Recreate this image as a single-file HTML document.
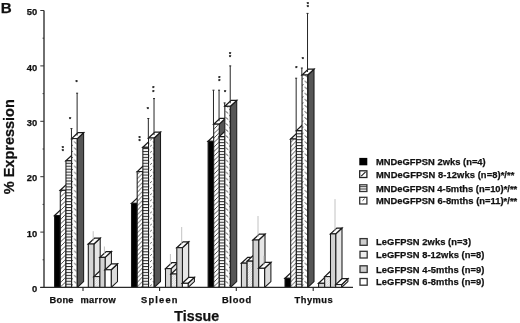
<!DOCTYPE html>
<html><head><meta charset="utf-8"><title>Figure B</title>
<style>
html,body{margin:0;padding:0;background:#fff;}
svg{display:block;}
text{font-family:"Liberation Sans",sans-serif;font-weight:bold;fill:#111;stroke:#111;stroke-width:0.25px;}
</style></head><body>
<svg width="520" height="323" viewBox="0 0 520 323">
<defs>
<pattern id="pd" patternUnits="userSpaceOnUse" width="4.5" height="4.5" x="0" y="1">
<rect width="4.5" height="4.5" fill="#fff"/>
<path d="M-1,5.5 L5.5,-1 M-1,1 L1,-1 M3.5,5.5 L5.5,3.5" stroke="#151515" stroke-width="0.75" fill="none"/>
</pattern>
<pattern id="ph" patternUnits="userSpaceOnUse" width="6" height="2.95" x="0" y="0.5">
<rect width="6" height="2.95" fill="#fff"/>
<rect y="0" width="6" height="1.1" fill="#333"/>
</pattern>
<pattern id="pt" patternUnits="userSpaceOnUse" width="6.07" height="6.07" x="0" y="0">
<rect width="6.07" height="6.07" fill="#fff"/>
<path d="M1.2,2.05 L3.7,4.1 M4.5,0.73 L6.2,-0.9 M4.5,6.8 L6.2,5.17" stroke="#2a2a2a" stroke-width="0.85" fill="none"/>
</pattern>
<pattern id="pl" patternUnits="userSpaceOnUse" width="2.4" height="2.4">
<rect width="2.4" height="2.4" fill="#f3f3f3"/>
<path d="M-0.5,2.9 L2.9,-0.5" stroke="#c6c6c6" stroke-width="0.7" fill="none"/>
</pattern>
</defs>
<rect width="520" height="323" fill="#fff"/>

<g stroke="#333" fill="none">
<path d="M44,10.5 V287.5" stroke-width="1.4"/>
<path d="M40.3,287.5 H44" stroke-width="1"/>
<path d="M40.3,232.1 H44" stroke-width="1"/>
<path d="M40.3,176.7 H44" stroke-width="1"/>
<path d="M40.3,121.3 H44" stroke-width="1"/>
<path d="M40.3,65.9 H44" stroke-width="1"/>
<path d="M40.3,10.5 H44" stroke-width="1"/>
<path d="M42.6,259.8 H44" stroke-width="1"/>
<path d="M42.6,204.4 H44" stroke-width="1"/>
<path d="M42.6,149.0 H44" stroke-width="1"/>
<path d="M42.6,93.6 H44" stroke-width="1"/>
<path d="M42.6,38.2 H44" stroke-width="1"/>
</g>
<text x="37.2" y="292.1" font-size="9.4" text-anchor="end">0</text>
<text x="37.2" y="236.7" font-size="9.4" text-anchor="end">10</text>
<text x="37.2" y="181.3" font-size="9.4" text-anchor="end">20</text>
<text x="37.2" y="125.9" font-size="9.4" text-anchor="end">30</text>
<text x="37.2" y="70.5" font-size="9.4" text-anchor="end">40</text>
<text x="37.2" y="15.1" font-size="9.4" text-anchor="end">50</text>
<g stroke="#1a1a1a" stroke-width="1.05" stroke-linejoin="miter">
<path d="M60.28,215.50 L66.58,209.60 L66.58,281.60 L60.28,287.50 Z" fill="#000"/>
<path d="M54.60,215.50 L60.90,209.60 L66.58,209.60 L60.28,215.50 Z" fill="#fff" stroke-width="1.25"/>
<rect x="54.60" y="215.50" width="5.68" height="72.00" fill="#000"/>
<path d="M65.96,190.30 L72.26,184.40 L72.26,281.60 L65.96,287.50 Z" fill="#565656"/>
<path d="M60.28,190.30 L66.58,184.40 L72.26,184.40 L65.96,190.30 Z" fill="#fff" stroke-width="1.25"/>
<rect x="60.28" y="190.30" width="5.68" height="97.20" fill="url(#pd)"/>
<path d="M71.64,160.80 L77.94,154.90 L77.94,281.60 L71.64,287.50 Z" fill="#565656"/>
<path d="M65.96,160.80 L72.26,154.90 L77.94,154.90 L71.64,160.80 Z" fill="#fff" stroke-width="1.25"/>
<rect x="65.96" y="160.80" width="5.68" height="126.70" fill="url(#ph)"/>
<path d="M77.32,138.60 L83.62,132.70 L83.62,281.60 L77.32,287.50 Z" fill="#565656"/>
<path d="M71.64,138.60 L77.94,132.70 L83.62,132.70 L77.32,138.60 Z" fill="#fff" stroke-width="1.25"/>
<rect x="71.64" y="138.60" width="5.68" height="148.90" fill="url(#pt)"/>
<path d="M77.32,138.60 V287.50" stroke="#222" stroke-width="1.3" fill="none"/>
<path d="M93.90,244.00 L100.20,238.10 L100.20,281.60 L93.90,287.50 Z" fill="#e6e6e6"/>
<path d="M88.30,244.00 L94.60,238.10 L100.20,238.10 L93.90,244.00 Z" fill="#fff" stroke-width="1.25"/>
<rect x="88.30" y="244.00" width="5.60" height="43.50" fill="#d6d6d6"/>
<path d="M99.90,276.60 L106.20,270.70 L106.20,281.60 L99.90,287.50 Z" fill="#e6e6e6"/>
<path d="M93.90,276.60 L100.20,270.70 L106.20,270.70 L99.90,276.60 Z" fill="#fff" stroke-width="1.25"/>
<rect x="93.90" y="276.60" width="6.00" height="10.90" fill="url(#pl)"/>
<path d="M105.10,257.40 L111.40,251.50 L111.40,281.60 L105.10,287.50 Z" fill="#e6e6e6"/>
<path d="M99.90,257.40 L106.20,251.50 L111.40,251.50 L105.10,257.40 Z" fill="#fff" stroke-width="1.25"/>
<rect x="99.90" y="257.40" width="5.20" height="30.10" fill="#d2d2d2"/>
<path d="M111.20,269.80 L117.50,263.90 L117.50,281.60 L111.20,287.50 Z" fill="#dcdcdc"/>
<path d="M105.10,269.80 L111.40,263.90 L117.50,263.90 L111.20,269.80 Z" fill="#fff" stroke-width="1.25"/>
<rect x="105.10" y="269.80" width="6.10" height="17.70" fill="#fff"/>
<path d="M137.18,203.40 L143.48,197.50 L143.48,281.60 L137.18,287.50 Z" fill="#000"/>
<path d="M131.50,203.40 L137.80,197.50 L143.48,197.50 L137.18,203.40 Z" fill="#fff" stroke-width="1.25"/>
<rect x="131.50" y="203.40" width="5.68" height="84.10" fill="#000"/>
<path d="M142.86,171.60 L149.16,165.70 L149.16,281.60 L142.86,287.50 Z" fill="#565656"/>
<path d="M137.18,171.60 L143.48,165.70 L149.16,165.70 L142.86,171.60 Z" fill="#fff" stroke-width="1.25"/>
<rect x="137.18" y="171.60" width="5.68" height="115.90" fill="url(#pd)"/>
<path d="M148.54,147.30 L154.84,141.40 L154.84,281.60 L148.54,287.50 Z" fill="#565656"/>
<path d="M142.86,147.30 L149.16,141.40 L154.84,141.40 L148.54,147.30 Z" fill="#fff" stroke-width="1.25"/>
<rect x="142.86" y="147.30" width="5.68" height="140.20" fill="url(#ph)"/>
<path d="M154.22,138.00 L160.52,132.10 L160.52,281.60 L154.22,287.50 Z" fill="#565656"/>
<path d="M148.54,138.00 L154.84,132.10 L160.52,132.10 L154.22,138.00 Z" fill="#fff" stroke-width="1.25"/>
<rect x="148.54" y="138.00" width="5.68" height="149.50" fill="url(#pt)"/>
<path d="M154.22,138.00 V287.50" stroke="#222" stroke-width="1.3" fill="none"/>
<path d="M171.10,268.60 L177.40,262.70 L177.40,281.60 L171.10,287.50 Z" fill="#e6e6e6"/>
<path d="M165.50,268.60 L171.80,262.70 L177.40,262.70 L171.10,268.60 Z" fill="#fff" stroke-width="1.25"/>
<rect x="165.50" y="268.60" width="5.60" height="18.90" fill="#d6d6d6"/>
<path d="M176.80,274.00 L183.10,268.10 L183.10,281.60 L176.80,287.50 Z" fill="#e6e6e6"/>
<path d="M171.10,274.00 L177.40,268.10 L183.10,268.10 L176.80,274.00 Z" fill="#fff" stroke-width="1.25"/>
<rect x="171.10" y="274.00" width="5.70" height="13.50" fill="url(#pl)"/>
<path d="M182.40,247.70 L188.70,241.80 L188.70,281.60 L182.40,287.50 Z" fill="#e6e6e6"/>
<path d="M176.80,247.70 L183.10,241.80 L188.70,241.80 L182.40,247.70 Z" fill="#fff" stroke-width="1.25"/>
<rect x="176.80" y="247.70" width="5.60" height="39.80" fill="#d2d2d2"/>
<path d="M188.10,283.30 L194.40,277.40 L194.40,281.60 L188.10,287.50 Z" fill="#dcdcdc"/>
<path d="M182.40,283.30 L188.70,277.40 L194.40,277.40 L188.10,283.30 Z" fill="#fff" stroke-width="1.25"/>
<rect x="182.40" y="283.30" width="5.70" height="4.20" fill="#fff"/>
<path d="M213.68,141.30 L219.98,135.40 L219.98,281.60 L213.68,287.50 Z" fill="#000"/>
<path d="M208.10,141.30 L214.40,135.40 L219.98,135.40 L213.68,141.30 Z" fill="#fff" stroke-width="1.25"/>
<rect x="208.10" y="141.30" width="5.58" height="146.20" fill="#000"/>
<path d="M219.26,124.20 L225.56,118.30 L225.56,281.60 L219.26,287.50 Z" fill="#565656"/>
<path d="M213.68,124.20 L219.98,118.30 L225.56,118.30 L219.26,124.20 Z" fill="#fff" stroke-width="1.25"/>
<rect x="213.68" y="124.20" width="5.58" height="163.30" fill="url(#pd)"/>
<path d="M224.84,136.60 L231.14,130.70 L231.14,281.60 L224.84,287.50 Z" fill="#565656"/>
<path d="M219.26,136.60 L225.56,130.70 L231.14,130.70 L224.84,136.60 Z" fill="#fff" stroke-width="1.25"/>
<rect x="219.26" y="136.60" width="5.58" height="150.90" fill="url(#ph)"/>
<path d="M230.42,106.30 L236.72,100.40 L236.72,281.60 L230.42,287.50 Z" fill="#565656"/>
<path d="M224.84,106.30 L231.14,100.40 L236.72,100.40 L230.42,106.30 Z" fill="#fff" stroke-width="1.25"/>
<rect x="224.84" y="106.30" width="5.58" height="181.20" fill="url(#pt)"/>
<path d="M230.42,106.30 V287.50" stroke="#222" stroke-width="1.3" fill="none"/>
<path d="M247.10,263.20 L253.40,257.30 L253.40,281.60 L247.10,287.50 Z" fill="#e6e6e6"/>
<path d="M241.40,263.20 L247.70,257.30 L253.40,257.30 L247.10,263.20 Z" fill="#fff" stroke-width="1.25"/>
<rect x="241.40" y="263.20" width="5.70" height="24.30" fill="#d6d6d6"/>
<path d="M253.00,261.20 L259.30,255.30 L259.30,281.60 L253.00,287.50 Z" fill="#e6e6e6"/>
<path d="M247.10,261.20 L253.40,255.30 L259.30,255.30 L253.00,261.20 Z" fill="#fff" stroke-width="1.25"/>
<rect x="247.10" y="261.20" width="5.90" height="26.30" fill="url(#pl)"/>
<path d="M258.70,240.00 L265.00,234.10 L265.00,281.60 L258.70,287.50 Z" fill="#e6e6e6"/>
<path d="M253.00,240.00 L259.30,234.10 L265.00,234.10 L258.70,240.00 Z" fill="#fff" stroke-width="1.25"/>
<rect x="253.00" y="240.00" width="5.70" height="47.50" fill="#d2d2d2"/>
<path d="M264.60,268.30 L270.90,262.40 L270.90,281.60 L264.60,287.50 Z" fill="#dcdcdc"/>
<path d="M258.70,268.30 L265.00,262.40 L270.90,262.40 L264.60,268.30 Z" fill="#fff" stroke-width="1.25"/>
<rect x="258.70" y="268.30" width="5.90" height="19.20" fill="#fff"/>
<path d="M290.68,278.30 L296.98,272.40 L296.98,281.60 L290.68,287.50 Z" fill="#000"/>
<path d="M285.00,278.30 L291.30,272.40 L296.98,272.40 L290.68,278.30 Z" fill="#fff" stroke-width="1.25"/>
<rect x="285.00" y="278.30" width="5.68" height="9.20" fill="#000"/>
<path d="M296.36,139.00 L302.66,133.10 L302.66,281.60 L296.36,287.50 Z" fill="#565656"/>
<path d="M290.68,139.00 L296.98,133.10 L302.66,133.10 L296.36,139.00 Z" fill="#fff" stroke-width="1.25"/>
<rect x="290.68" y="139.00" width="5.68" height="148.50" fill="url(#pd)"/>
<path d="M302.04,130.60 L308.34,124.70 L308.34,281.60 L302.04,287.50 Z" fill="#565656"/>
<path d="M296.36,130.60 L302.66,124.70 L308.34,124.70 L302.04,130.60 Z" fill="#fff" stroke-width="1.25"/>
<rect x="296.36" y="130.60" width="5.68" height="156.90" fill="url(#ph)"/>
<path d="M307.72,75.00 L314.02,69.10 L314.02,281.60 L307.72,287.50 Z" fill="#565656"/>
<path d="M302.04,75.00 L308.34,69.10 L314.02,69.10 L307.72,75.00 Z" fill="#fff" stroke-width="1.25"/>
<rect x="302.04" y="75.00" width="5.68" height="212.50" fill="url(#pt)"/>
<path d="M307.72,75.00 V287.50" stroke="#222" stroke-width="1.3" fill="none"/>
<path d="M324.70,283.30 L331.00,277.40 L331.00,281.60 L324.70,287.50 Z" fill="#e6e6e6"/>
<path d="M318.60,283.30 L324.90,277.40 L331.00,277.40 L324.70,283.30 Z" fill="#fff" stroke-width="1.25"/>
<rect x="318.60" y="283.30" width="6.10" height="4.20" fill="#d6d6d6"/>
<path d="M330.50,276.60 L336.80,270.70 L336.80,281.60 L330.50,287.50 Z" fill="#e6e6e6"/>
<path d="M324.70,276.60 L331.00,270.70 L336.80,270.70 L330.50,276.60 Z" fill="#fff" stroke-width="1.25"/>
<rect x="324.70" y="276.60" width="5.80" height="10.90" fill="url(#pl)"/>
<path d="M335.70,233.90 L342.00,228.00 L342.00,281.60 L335.70,287.50 Z" fill="#e6e6e6"/>
<path d="M330.50,233.90 L336.80,228.00 L342.00,228.00 L335.70,233.90 Z" fill="#fff" stroke-width="1.25"/>
<rect x="330.50" y="233.90" width="5.20" height="53.60" fill="#d2d2d2"/>
<path d="M341.60,284.60 L347.90,278.70 L347.90,281.60 L341.60,287.50 Z" fill="#dcdcdc"/>
<path d="M335.70,284.60 L342.00,278.70 L347.90,278.70 L341.60,284.60 Z" fill="#fff" stroke-width="1.25"/>
<rect x="335.70" y="284.60" width="5.90" height="2.90" fill="#fff"/>
</g>
<rect x="45" y="288.05" width="320" height="3.5" fill="#fff"/>
<g stroke="#2a2a2a" fill="none">
<path d="M40.3,287.4 H353" stroke-width="1.3"/>
<path d="M83,287.5 V291" stroke-width="1.1"/>
<path d="M159.6,287.5 V291" stroke-width="1.1"/>
<path d="M236.3,287.5 V291" stroke-width="1.1"/>
<path d="M313.2,287.5 V291" stroke-width="1.1"/>
</g>
<path d="M71.44,128.60 V138.60 M70.44,128.60 H72.44" stroke="#262626" stroke-width="1" fill="none"/>
<path d="M77.12,93.20 V135.60 M76.12,93.20 H78.12" stroke="#262626" stroke-width="1" fill="none"/>
<path d="M93.20,231.20 V241.00" stroke="#b2b2b2" stroke-width="0.8" fill="none"/>
<path d="M104.40,246.50 V254.40" stroke="#b2b2b2" stroke-width="0.8" fill="none"/>
<path d="M148.34,118.50 V138.00 M147.34,118.50 H149.34" stroke="#262626" stroke-width="1" fill="none"/>
<path d="M154.02,98.60 V135.00 M153.02,98.60 H155.02" stroke="#262626" stroke-width="1" fill="none"/>
<path d="M170.40,254.00 V265.60" stroke="#b2b2b2" stroke-width="0.8" fill="none"/>
<path d="M181.70,227.00 V244.70" stroke="#b2b2b2" stroke-width="0.8" fill="none"/>
<path d="M213.48,90.20 V124.20 M212.48,90.20 H214.48" stroke="#262626" stroke-width="1" fill="none"/>
<path d="M219.06,90.20 V121.20 M218.06,90.20 H220.06" stroke="#262626" stroke-width="1" fill="none"/>
<path d="M224.64,102.90 V106.30 M223.64,102.90 H225.64" stroke="#262626" stroke-width="1" fill="none"/>
<path d="M230.22,65.90 V103.30 M229.22,65.90 H231.22" stroke="#262626" stroke-width="1" fill="none"/>
<path d="M258.00,216.00 V237.00" stroke="#b2b2b2" stroke-width="0.8" fill="none"/>
<path d="M263.90,255.80 V265.30" stroke="#b2b2b2" stroke-width="0.8" fill="none"/>
<path d="M296.16,78.20 V130.60 M295.16,78.20 H297.16" stroke="#262626" stroke-width="1" fill="none"/>
<path d="M301.84,68.00 V75.00 M300.84,68.00 H302.84" stroke="#262626" stroke-width="1" fill="none"/>
<path d="M307.52,13.40 V72.00 M306.52,13.40 H308.52" stroke="#262626" stroke-width="1" fill="none"/>
<path d="M335.00,199.10 V230.90" stroke="#b2b2b2" stroke-width="0.8" fill="none"/>
<text x="62.8" y="150.1" font-size="5.5" text-anchor="middle" fill="#222" stroke="none">*</text>
<text x="62.8" y="153.1" font-size="5.5" text-anchor="middle" fill="#222" stroke="none">*</text>
<text x="70.0" y="121.1" font-size="5.5" text-anchor="middle" fill="#222" stroke="none">*</text>
<text x="76.5" y="83.6" font-size="5.5" text-anchor="middle" fill="#222" stroke="none">*</text>
<text x="139.5" y="139.7" font-size="5.5" text-anchor="middle" fill="#222" stroke="none">*</text>
<text x="139.5" y="142.5" font-size="5.5" text-anchor="middle" fill="#222" stroke="none">*</text>
<text x="147.8" y="110.5" font-size="5.5" text-anchor="middle" fill="#222" stroke="none">*</text>
<text x="153.4" y="90.1" font-size="5.5" text-anchor="middle" fill="#222" stroke="none">*</text>
<text x="153.4" y="93.5" font-size="5.5" text-anchor="middle" fill="#222" stroke="none">*</text>
<text x="219.2" y="79.7" font-size="5.5" text-anchor="middle" fill="#222" stroke="none">*</text>
<text x="219.2" y="83.1" font-size="5.5" text-anchor="middle" fill="#222" stroke="none">*</text>
<text x="225.0" y="93.8" font-size="5.5" text-anchor="middle" fill="#222" stroke="none">*</text>
<text x="230.1" y="55.9" font-size="5.5" text-anchor="middle" fill="#222" stroke="none">*</text>
<text x="230.1" y="58.9" font-size="5.5" text-anchor="middle" fill="#222" stroke="none">*</text>
<text x="296.3" y="70.4" font-size="5.5" text-anchor="middle" fill="#222" stroke="none">*</text>
<text x="302.8" y="61.4" font-size="5.5" text-anchor="middle" fill="#222" stroke="none">*</text>
<text x="307.7" y="5.7" font-size="5.5" text-anchor="middle" fill="#222" stroke="none">*</text>
<text x="307.7" y="8.7" font-size="5.5" text-anchor="middle" fill="#222" stroke="none">*</text>
<text x="49.6" y="303.1" font-size="9.3" textLength="23.9" lengthAdjust="spacing">Bone</text>
<text x="80.4" y="303.1" font-size="9.3" textLength="35.4" lengthAdjust="spacing">marrow</text>
<text x="141.1" y="303.1" font-size="9.3" textLength="36.3" lengthAdjust="spacing">Spleen</text>
<text x="221.9" y="302.9" font-size="9.3" textLength="29.3" lengthAdjust="spacing">Blood</text>
<text x="294.5" y="302.9" font-size="9.3" textLength="38.2" lengthAdjust="spacing">Thymus</text>
<text x="174.2" y="320.8" font-size="14.2" textLength="45" lengthAdjust="spacing">Tissue</text>
<text x="0.8" y="13.1" font-size="15.2">B</text>
<text transform="translate(13.6,194.2) rotate(-90)" font-size="14.5" textLength="95" lengthAdjust="spacing">% Expression</text>
<rect x="359.3" y="157.9" width="8" height="7.4" fill="#000"/>
<text x="376" y="165" font-size="9.35" textLength="109.7" lengthAdjust="spacing">MNDeGFPSN 2wks (n=4)</text>
<rect x="359.7" y="170.8" width="7.2" height="6.7" fill="#fff" stroke="#222" stroke-width="1.3"/><path d="M361.2,176.2 L365.6,171.8" stroke="#222" stroke-width="1.1"/>
<text x="376" y="177.5" font-size="9.35" textLength="138.4" lengthAdjust="spacing">MNDeGFPSN 8-12wks (n=8)*/**</text>
<rect x="359.7" y="184.8" width="7.2" height="6.7" fill="#fff" stroke="#333" stroke-width="1.3"/><path d="M360,186.7 H367 M360,189.0 H367" stroke="#333" stroke-width="1"/>
<text x="376" y="191.5" font-size="9.35" textLength="141.2" lengthAdjust="spacing">MNDeGFPSN 4-5mths (n=10)*/**</text>
<rect x="359.7" y="197.3" width="7.2" height="6.7" fill="#fff" stroke="#333" stroke-width="1.3"/><path d="M362.5,200.7 L364.6,198.7" stroke="#333" stroke-width="1"/>
<text x="376" y="204" font-size="9.35" textLength="141.2" lengthAdjust="spacing">MNDeGFPSN 6-8mths (n=11)*/**</text>
<rect x="360" y="238.6" width="7.2" height="6.7" fill="#cfcfcf" stroke="#333" stroke-width="1.3"/>
<text x="376" y="245.3" font-size="9.35" textLength="95.0" lengthAdjust="spacing">LeGFPSN 2wks (n=3)</text>
<rect x="360" y="251.3" width="7.2" height="6.7" fill="#ededed" stroke="#333" stroke-width="1.3"/>
<text x="376" y="258" font-size="9.35" textLength="108.4" lengthAdjust="spacing">LeGFPSN 8-12wks (n=8)</text>
<rect x="360" y="265.8" width="7.2" height="6.7" fill="#cfcfcf" stroke="#333" stroke-width="1.3"/>
<text x="376" y="272.5" font-size="9.35" textLength="108.4" lengthAdjust="spacing">LeGFPSN 4-5mths (n=9)</text>
<rect x="360" y="278.5" width="7.2" height="6.7" fill="#fff" stroke="#333" stroke-width="1.3"/>
<text x="376" y="285.2" font-size="9.35" textLength="108.4" lengthAdjust="spacing">LeGFPSN 6-8mths (n=9)</text>
</svg>
</body></html>
